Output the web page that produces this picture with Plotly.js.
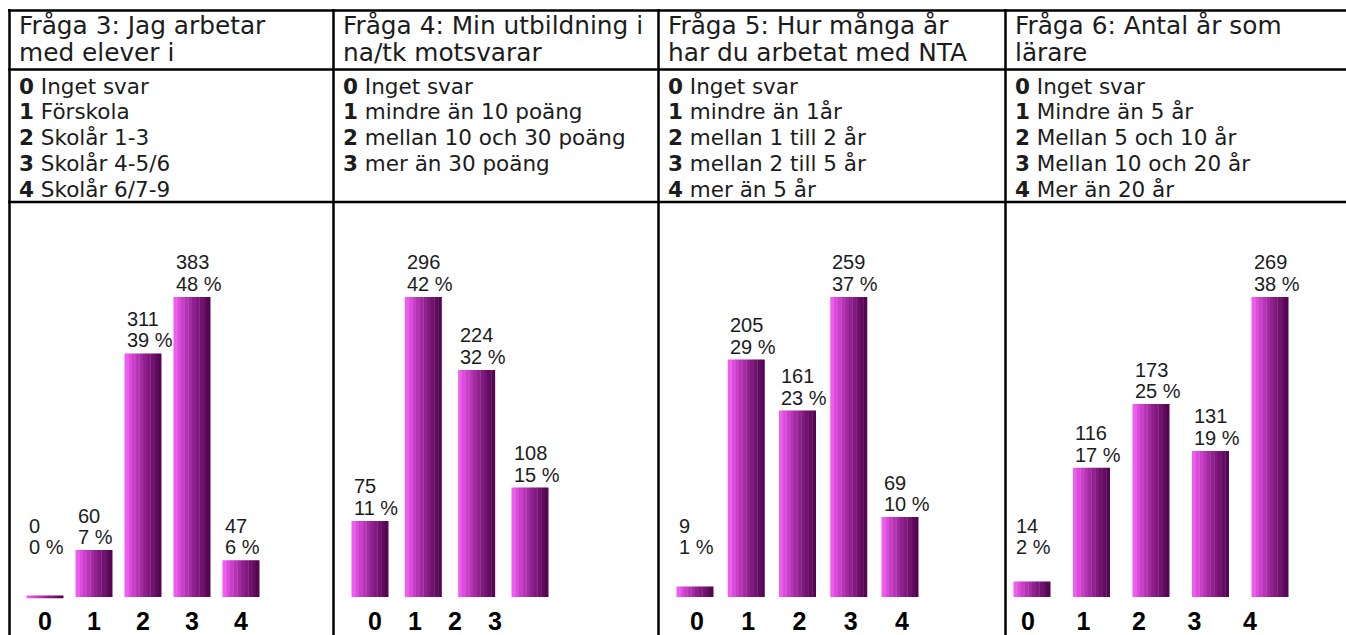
<!DOCTYPE html>
<html>
<head>
<meta charset="utf-8">
<script src="https://cdn.plot.ly/plotly-3.0.1.min.js"></script>
<style>html,body{margin:0;padding:0;background:#fff;}</style>
</head>
<body>
<div id="chart" style="width:1346px;height:635px;"></div>
<script>
// ---------------- DATA ----------------
const q3Categories = ['0', '1', '2', '3', '4'];
const q3Counts = [0, 60, 311, 383, 47];
const q3Percents = [0, 7, 39, 48, 6];
const q3Title = ['Fråga 3: Jag arbetar', 'med elever i'];
const q3Legend = ['Inget svar', 'Förskola', 'Skolår 1-3', 'Skolår 4-5/6', 'Skolår 6/7-9'];

const q4Categories = ['0', '1', '2', '3'];
const q4Counts = [75, 296, 224, 108];
const q4Percents = [11, 42, 32, 15];
const q4Title = ['Fråga 4: Min utbildning i', 'na/tk motsvarar'];
const q4Legend = ['Inget svar', 'mindre än 10 poäng', 'mellan 10 och 30 poäng', 'mer än 30 poäng'];

const q5Categories = ['0', '1', '2', '3', '4'];
const q5Counts = [9, 205, 161, 259, 69];
const q5Percents = [1, 29, 23, 37, 10];
const q5Title = ['Fråga 5: Hur många år', 'har du arbetat med NTA'];
const q5Legend = ['Inget svar', 'mindre än 1år', 'mellan 1 till 2 år', 'mellan 2 till 5 år', 'mer än 5 år'];

const q6Categories = ['0', '1', '2', '3', '4'];
const q6Counts = [14, 116, 173, 131, 269];
const q6Percents = [2, 17, 25, 19, 38];
const q6Title = ['Fråga 6: Antal år som', 'lärare'];
const q6Legend = ['Inget svar', 'Mindre än 5 år', 'Mellan 5 och 10 år', 'Mellan 10 och 20 år', 'Mer än 20 år'];

// ---------------- LAYOUT / STYLE ----------------
const W = 1346, H = 635;
const X = p => p / W;
const Y = p => 1 - p / H;

const panels = [
  {cats: q3Categories, counts: q3Counts, pcts: q3Percents, title: q3Title, legend: q3Legend,
   left: 9, bar0: 45, barN: 241, tick0: 45, tickN: 241},
  {cats: q4Categories, counts: q4Counts, pcts: q4Percents, title: q4Title, legend: q4Legend,
   left: 333, bar0: 370, barN: 530, tick0: 375, tickN: 495},
  {cats: q5Categories, counts: q5Counts, pcts: q5Percents, title: q5Title, legend: q5Legend,
   left: 658, bar0: 695, barN: 900, tick0: 697, tickN: 902},
  {cats: q6Categories, counts: q6Counts, pcts: q6Percents, title: q6Title, legend: q6Legend,
   left: 1005, bar0: 1032, barN: 1270, tick0: 1028, tickN: 1250}
];

const stripeColors = ['#f05cf0', '#dc4cdc', '#c840c7', '#b535b4', '#a22ba1',
                      '#90228f', '#801a7e', '#70126e', '#620b60', '#540653'];
const BAR_PX = 37;
const BASE_PX = 597, TOP_PX = 297, PAD_PX = 1.5;
const LABEL_MIN_PX = 37;
const textColor = '#1c1c1c';
const headFont = 'DejaVu Sans, Verdana, sans-serif';
const numFont = 'Liberation Sans, Arial, sans-serif';

const traces = [];
const annotations = [];
const shapes = [];
const layout = {
  width: W, height: H,
  margin: {l: 0, r: 0, t: 0, b: 0},
  paper_bgcolor: '#ffffff', plot_bgcolor: 'rgba(0,0,0,0)',
  showlegend: false, barmode: 'overlay',
  font: {family: numFont, color: textColor},
  hovermode: false
};

panels.forEach((p, pi) => {
  const n = p.cats.length;
  const idx = p.cats.map((c, i) => i);
  const ax = pi + 1, tax = pi + 5;
  const maxV = Math.max(...p.counts);
  const unitsPerPx = maxV / (BASE_PX - TOP_PX);
  const pad = PAD_PX * unitsPerPx;

  // bar axis
  const sp = (p.barN - p.bar0) / (n - 1);
  const bw = BAR_PX / sp;
  layout['xaxis' + ax] = {
    domain: [X(p.bar0 - sp / 2), X(p.barN + sp / 2)],
    range: [-0.5, n - 0.5], anchor: 'y' + ax,
    showticklabels: false, showgrid: false, zeroline: false, showline: false, ticks: '', fixedrange: true
  };
  layout['yaxis' + ax] = {
    domain: [Y(BASE_PX + PAD_PX), Y(TOP_PX)],
    range: [-pad, maxV], anchor: 'x' + ax,
    visible: false, fixedrange: true
  };

  // tick-label axis (category labels under the bars)
  const tsp = (p.tickN - p.tick0) / (n - 1);
  layout['xaxis' + tax] = {
    domain: [X(p.tick0 - tsp / 2), X(p.tickN + tsp / 2)],
    range: [-0.5, n - 0.5], anchor: 'y' + tax,
    tickmode: 'array', tickvals: idx, ticktext: p.cats.map(c => '<b>' + c + '</b>'),
    tickfont: {family: numFont, size: 25, color: '#000'},
    showgrid: false, zeroline: false, showline: false, ticks: '', ticklabelstandoff: 5, fixedrange: true
  };
  layout['yaxis' + tax] = {
    domain: [Y(BASE_PX + PAD_PX), Y(TOP_PX)],
    range: [-1, -0.5], anchor: 'x' + tax, visible: false, fixedrange: true
  };
  traces.push({
    type: 'scatter', mode: 'markers', x: idx, y: p.counts,
    marker: {opacity: 0, size: 1}, xaxis: 'x' + tax, yaxis: 'y' + tax,
    hoverinfo: 'skip', showlegend: false, cliponaxis: true
  });

  // striped (gradient-like) bars
  const N = stripeColors.length;
  stripeColors.forEach((col, k) => {
    traces.push({
      type: 'bar', x: idx, y: p.counts,
      offset: -bw / 2 + k * bw / N,
      width: bw / N * (k < N - 1 ? 1.08 : 1),
      marker: {color: col, line: {color: col, width: p.counts.map(v => v === 0 ? 3 : 0)}},
      xaxis: 'x' + ax, yaxis: 'y' + ax,
      hoverinfo: 'skip', showlegend: false
    });
  });

  // value labels
  p.counts.forEach((v, i) => {
    const yl = Math.max(v, LABEL_MIN_PX * unitsPerPx);
    annotations.push({
      xref: 'x' + ax, yref: 'y' + ax, x: i - bw / 2, y: yl,
      xanchor: 'left', yanchor: 'bottom', align: 'left', showarrow: false,
      text: p.pcts[i] + ' %', font: {family: numFont, size: 20, color: textColor}, yshift: 0
    });
    annotations.push({
      xref: 'x' + ax, yref: 'y' + ax, x: i - bw / 2, y: yl,
      xanchor: 'left', yanchor: 'bottom', align: 'left', showarrow: false,
      text: String(v), font: {family: numFont, size: 20, color: textColor}, yshift: 21.5
    });
  });

  // header title lines
  const titleY = [26, 53];
  p.title.forEach((t, li) => {
    annotations.push({
      xref: 'paper', yref: 'paper', x: X(p.left + 8), y: Y(titleY[li]),
      xanchor: 'left', yanchor: 'middle', showarrow: false, align: 'left',
      text: t, font: {family: headFont, size: 24.8, color: textColor}
    });
  });
  // legend lines
  p.legend.forEach((t, li) => {
    annotations.push({
      xref: 'paper', yref: 'paper', x: X(p.left + 8), y: Y(86 + li * 25.8),
      xanchor: 'left', yanchor: 'middle', showarrow: false, align: 'left',
      text: '<b>' + p.cats[li] + '</b> ' + t, font: {family: headFont, size: 21.5, color: textColor}
    });
  });

  // vertical table line
  shapes.push({type: 'line', xref: 'paper', yref: 'paper',
    x0: X(p.left + 0.5), x1: X(p.left + 0.5), y0: Y(9), y1: Y(H + 2),
    line: {color: '#000', width: 2.5}});
});

// horizontal table lines
[10.5, 69.5, 202].forEach(yy => {
  shapes.push({type: 'line', xref: 'paper', yref: 'paper',
    x0: X(8), x1: X(W + 2), y0: Y(yy), y1: Y(yy),
    line: {color: '#000', width: 2.5}});
});

layout.annotations = annotations;
layout.shapes = shapes;

Plotly.newPlot('chart', traces, layout, {displayModeBar: false, staticPlot: true});
</script>
</body>
</html>
